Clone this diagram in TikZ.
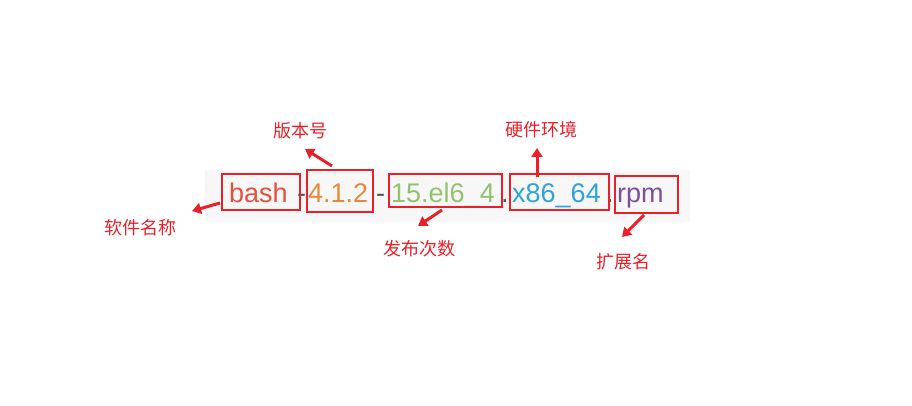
\documentclass[tikz,border=0pt]{standalone}
\usepackage{fontspec}
\setmainfont{Liberation Sans}
\newfontfamily\cjk{Noto Sans CJK SC}
\usetikzlibrary{arrows.meta}
\definecolor{boxred}{HTML}{E8202A}
\definecolor{cbash}{HTML}{E5503F}
\definecolor{cver}{HTML}{E8893A}
\definecolor{crel}{HTML}{93C26E}
\definecolor{carch}{HTML}{2DA3DA}
\definecolor{crpm}{HTML}{7B4F9D}
\definecolor{cdash}{HTML}{555555}
\begin{document}
\begin{tikzpicture}[x=1pt,y=-1pt,
  part/.style={inner sep=0pt,font=\fontsize{27}{27}\selectfont,anchor=base west},
  lbl/.style={inner sep=0pt,text=boxred,font=\cjk\fontsize{18}{18}\selectfont},
  rbox/.style={draw=boxred,line width=2pt},
  arr/.style={draw=boxred,line width=3pt,-{Triangle[length=9pt,width=11pt]}}]
\useasboundingbox (0,0) rectangle (912,406);
\fill[black!3] (205,170) rectangle (690,222);
% text pieces
\node[part,text=cbash] (t1) at (229,202) {bash};
\node[part,text=cdash] (d1) at (297,202) {-};
\node[part,text=cver] (t2) at (308,202) {4.1.2};
\node[part,text=cdash] (d2) at (376,202) {-};
\node[part,text=crel] (t3) at (391,202) {15.el6\_4};
\node[part,text=cdash] (d3) at (501,202) {.};
\node[part,text=carch] (t4) at (512,202) {x86\_64};
\node[part,text=cdash] (d4) at (606,202) {.};
\node[part,text=crpm] (t5) at (617,202) {rpm};
% boxes
\draw[rbox] (222,174) rectangle (300,210) coordinate (b1);
\draw[rbox] (307,170) rectangle (373,212);
\draw[rbox] (389,174) rectangle (502,207);
\draw[rbox] (510,174) rectangle (609,210);
\draw[rbox] (615,176) rectangle (678,213);
\coordinate (s1) at (220,203); \coordinate (s2) at (332,166);
\coordinate (s3) at (442,210); \coordinate (s4) at (537,177);
\coordinate (s5) at (644,215);
% labels
\node[lbl] (l1) at (140,228) {软件名称};
\node[lbl] (l2) at (300,131) {版本号};
\node[lbl] (l3) at (419,249) {发布次数};
\node[lbl] (l4) at (541,130) {硬件环境};
\node[lbl] (l5) at (623,262) {扩展名};
\coordinate (e1) at (192,211); \coordinate (e2) at (305,149);
\coordinate (e3) at (418,226); \coordinate (e4) at (537,148);
\coordinate (e5) at (622,237);
\draw[arr] (s1) -- (e1);
\draw[arr] (s2) -- (e2);
\draw[arr] (s3) -- (e3);
\draw[arr] (s4) -- (e4);
\draw[arr] (s5) -- (e5);
\end{tikzpicture}
\end{document}
